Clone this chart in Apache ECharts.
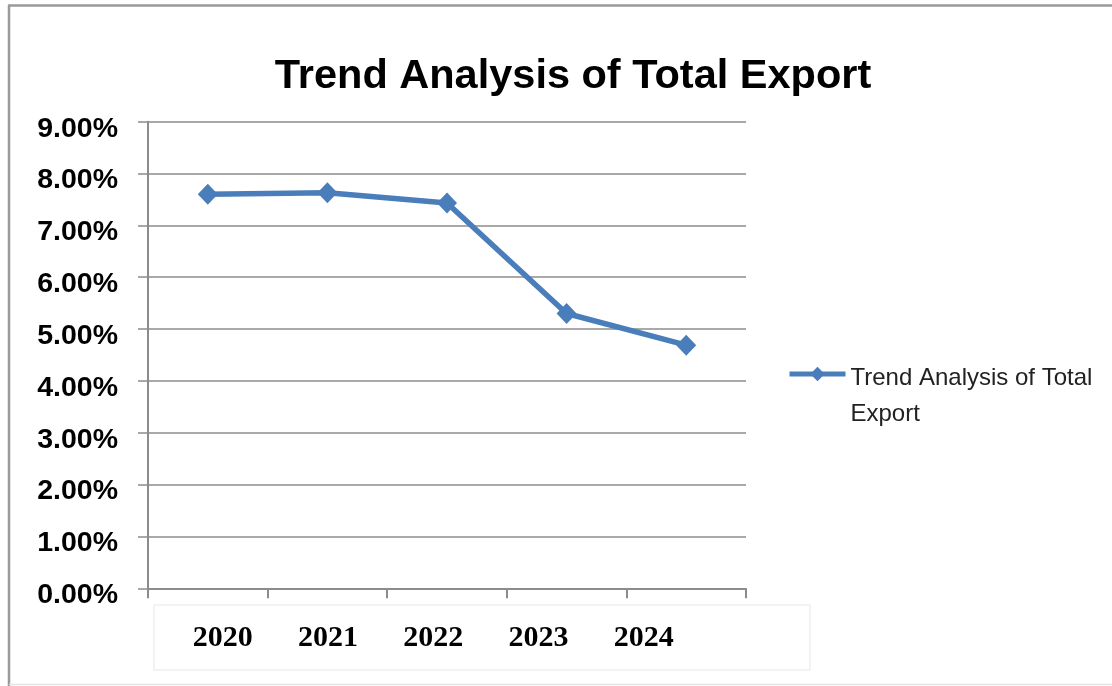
<!DOCTYPE html>
<html>
<head>
<meta charset="utf-8">
<script src="https://cdn.jsdelivr.net/npm/echarts@6/dist/echarts.min.js"></script>
<style>
  html, body { margin: 0; padding: 0; background: #ffffff; }
  #chart { width: 1112px; height: 686px; }
</style>
</head>
<body>
<div id="chart"></div>
<script>
// ---- data ----
const categories = ['2020', '2021', '2022', '2023', '2024'];
const seriesName = 'Trend Analysis of Total Export';
const legendLines = ['Trend Analysis of Total', 'Export'];
const exportGrowth = [7.60, 7.63, 7.43, 5.30, 4.69];   // percent
const yMin = 0;
const yMax = 9;
const yStep = 1;

const sans = "'Liberation Sans', Arial, sans-serif";
const gridGray = '#8c8c8c';
const lineBlue = '#4a7ebb';

const chart = echarts.init(document.getElementById('chart'), null, { renderer: 'canvas' });

chart.setOption({
  backgroundColor: '#ffffff',
  animation: false,
  title: {
    text: seriesName,
    left: 568,
    textAlign: 'center',
    top: 51,
    textStyle: { fontFamily: sans, fontWeight: 'bold', fontSize: 41.5, color: '#000000' }
  },
  legend: {
    left: 787,
    top: 326,
    padding: 0,
    itemWidth: 56,
    itemHeight: 18,
    lineStyle: { width: 5 },
    formatter: function () {
      return '{s| }\n' + legendLines.map(function (l) { return '{t|' + l + '}'; }).join('\n');
    },
    textStyle: {
      fontFamily: sans,
      fontSize: 24,
      color: '#222222',
      rich: {
        s: { lineHeight: 44, fontSize: 24, fontFamily: sans },
        t: { lineHeight: 36, fontSize: 24, fontFamily: sans, color: '#222222' }
      }
    },
    data: [seriesName]
  },
  grid: [
    { left: 148, right: 366, top: 121.7, bottom: 97.7, containLabel: false },
    { left: 170, right: 415.5, top: 560, bottom: 66, containLabel: false }
  ],
  xAxis: [
    {
      type: 'category',
      gridIndex: 0,
      data: categories,
      boundaryGap: true,
      axisLine: { show: true, lineStyle: { color: gridGray, width: 2 } },
      axisTick: { show: true, length: 10, alignWithLabel: false, lineStyle: { color: gridGray, width: 2 } },
      axisLabel: { show: false },
      splitLine: { show: false }
    },
    {
      type: 'category',
      gridIndex: 1,
      data: categories,
      boundaryGap: true,
      axisLine: { show: false },
      axisTick: { show: false },
      splitLine: { show: false },
      axisLabel: {
        show: true,
        margin: 18,
        verticalAlign: 'middle',
        fontFamily: "'Liberation Serif', 'Times New Roman', serif",
        fontWeight: 'bold',
        fontSize: 30,
        color: '#000000'
      }
    }
  ],
  yAxis: [
    {
      type: 'value',
      gridIndex: 0,
      min: yMin,
      max: yMax,
      interval: yStep,
      axisLine: { show: true, lineStyle: { color: gridGray, width: 2 } },
      axisTick: { show: true, length: 10, lineStyle: { color: gridGray, width: 1.5 } },
      splitLine: { show: true, lineStyle: { color: gridGray, width: 1.5 } },
      axisLabel: {
        margin: 30,
        verticalAlign: 'top',
        lineHeight: 14,
        fontFamily: sans,
        fontWeight: 'bold',
        fontSize: 28.5,
        color: '#000000',
        formatter: function (v) { return v.toFixed(2) + '%'; }
      }
    },
    {
      type: 'value',
      gridIndex: 1,
      min: 0,
      max: 1,
      show: false
    }
  ],
  graphic: [
    { type: 'rect', shape: { x: 154, y: 605, width: 656, height: 65 }, style: { fill: 'none', stroke: '#efefef', lineWidth: 1.5 }, silent: true },
    { type: 'line', shape: { x1: 8, y1: 5.5, x2: 1112, y2: 5.5 }, style: { stroke: '#9a9a9a', lineWidth: 2.5 }, silent: true },
    { type: 'line', shape: { x1: 9, y1: 5, x2: 9, y2: 686 }, style: { stroke: '#9a9a9a', lineWidth: 2.5 }, silent: true },
    { type: 'line', shape: { x1: 9, y1: 684.5, x2: 1112, y2: 684.5 }, style: { stroke: '#e4e4e4', lineWidth: 1.5 }, silent: true }
  ],
  series: [
    {
      name: seriesName,
      type: 'line',
      xAxisIndex: 0,
      yAxisIndex: 0,
      data: exportGrowth,
      symbol: 'diamond',
      symbolSize: [20, 21],
      lineStyle: { color: lineBlue, width: 5.5 },
      itemStyle: { color: lineBlue },
      z: 3
    }
  ]
});
</script>
</body>
</html>
